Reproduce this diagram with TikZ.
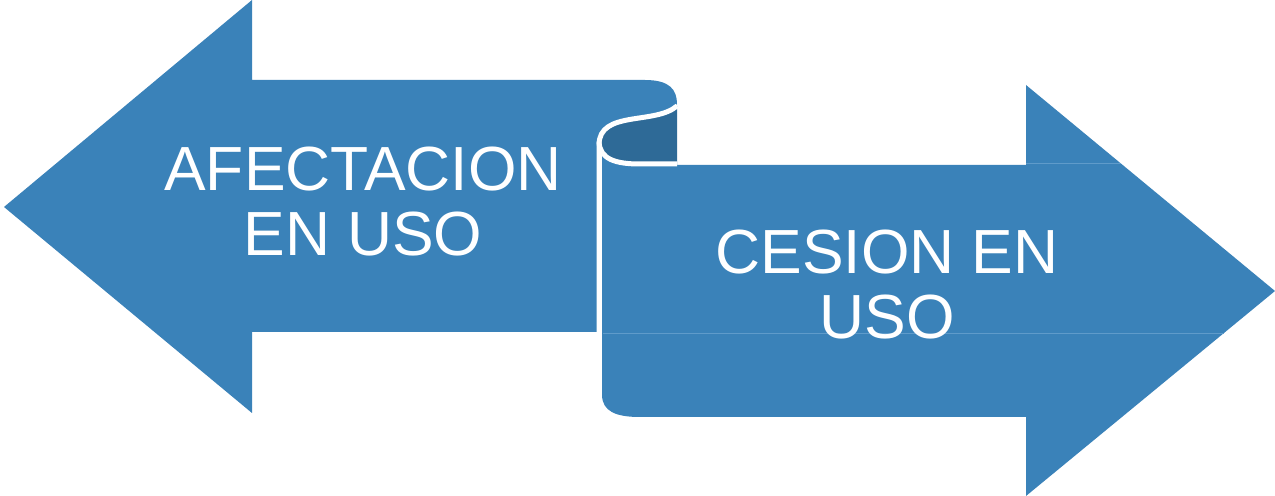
\documentclass[tikz,border=0pt]{standalone}
\usepackage{fontspec}
\setmainfont{Liberation Sans}
\definecolor{arrowblue}{RGB}{58,130,185}
\definecolor{foldblue}{RGB}{46,106,151}
\definecolor{seamblue}{RGB}{95,155,202}

\begin{document}
\begin{tikzpicture}[x=0.02cm,y=-0.02cm,
    arrowbody/.style={fill=arrowblue,draw=none},
    foldline/.style={draw=white,line width=0.1cm,line cap=butt},
    seam/.style={draw=seamblue,line width=0.4pt},
    arrowtext/.style={text=white,align=center,
      font=\fontsize{35.5}{37}\selectfont}]
  \useasboundingbox (0,0) rectangle (1275,496);
  % Right arrow (drawn first, lies under the fold)
  \fill[arrowbody] (602,150) -- (602,396)
    .. controls (603,411) and (615,417) .. (640,417) -- (1026,417)
    -- (1026,496) -- (1275,291) -- (1026,85) -- (1026,165) -- (640,165)
    .. controls (615,165) and (602,160) .. (602,150) -- cycle;
  % Left arrow with rolled end
  \fill[arrowbody] (4,207) -- (252,0) -- (252,80) -- (645,80)
    .. controls (670,80) and (677,90) .. (677,104)
    .. controls (655,125) and (599,110) .. (599,145)
    -- (599,332) -- (252,332) -- (252,413) -- cycle;
  % Back side of the fold
  \fill[foldblue] (677,106) .. controls (655,125) and (599,110) .. (599,145)
    .. controls (600,160) and (615,165) .. (640,165) -- (677,165) -- cycle;
  \draw[foldline] (677,106) .. controls (655,125) and (599,110) .. (599,145)
    -- (599,332);
  \draw[foldline] (599,142) .. controls (600,159) and (615,164) .. (640,164)
    -- (677,164);
  % faint seams
  \draw[seam] (1026,163.5) -- (1121,163.5);
  \draw[seam] (603,333.5) -- (1224,333.5);
  % Labels
  \node[arrowtext] (afectacion) at (363,202) {AFECTACION\\EN USO};
  \node[arrowtext] (cesion) at (887,285) {CESION EN\\USO};
\end{tikzpicture}
\end{document}
